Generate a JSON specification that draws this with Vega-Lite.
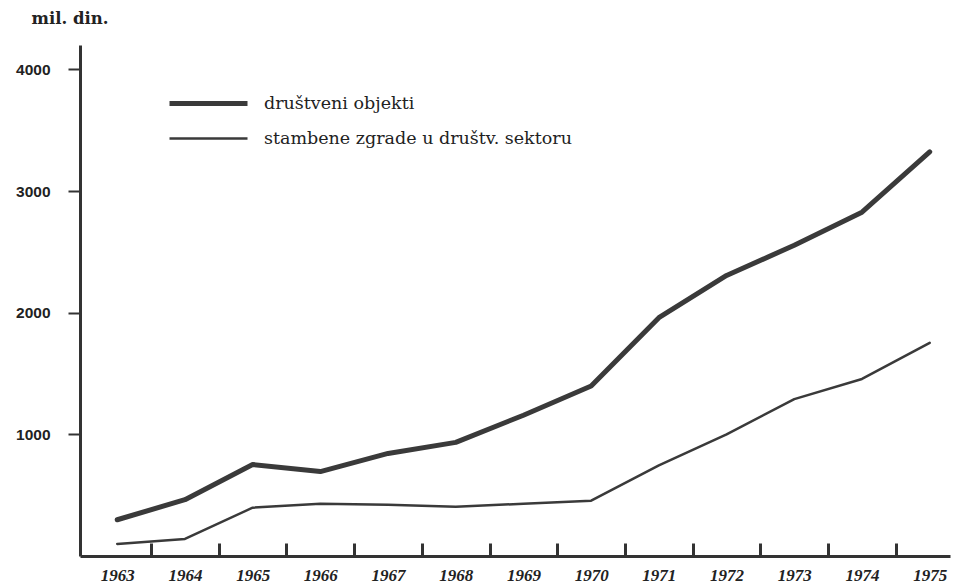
{
  "$schema": "https://vega.github.io/schema/vega-lite/v6.json",
  "autosize": "none",
  "width": 870,
  "height": 511,
  "padding": {"left": 80, "top": 45, "right": 10, "bottom": 30},
  "background": "white",
  "config": {"view": {"stroke": null}},
  "data": {"values": [
    {"year": 1963, "series": "društveni objekti", "value": 298},
    {"year": 1964, "series": "društveni objekti", "value": 463},
    {"year": 1965, "series": "društveni objekti", "value": 752},
    {"year": 1966, "series": "društveni objekti", "value": 694},
    {"year": 1967, "series": "društveni objekti", "value": 843},
    {"year": 1968, "series": "društveni objekti", "value": 934},
    {"year": 1969, "series": "društveni objekti", "value": 1157},
    {"year": 1970, "series": "društveni objekti", "value": 1397},
    {"year": 1971, "series": "društveni objekti", "value": 1959},
    {"year": 1972, "series": "društveni objekti", "value": 2306},
    {"year": 1973, "series": "društveni objekti", "value": 2554},
    {"year": 1974, "series": "društveni objekti", "value": 2826},
    {"year": 1975, "series": "društveni objekti", "value": 3322},
    {"year": 1963, "series": "stambene zgrade u društv. sektoru", "value": 99},
    {"year": 1964, "series": "stambene zgrade u društv. sektoru", "value": 140},
    {"year": 1965, "series": "stambene zgrade u društv. sektoru", "value": 397},
    {"year": 1966, "series": "stambene zgrade u društv. sektoru", "value": 430},
    {"year": 1967, "series": "stambene zgrade u društv. sektoru", "value": 421},
    {"year": 1968, "series": "stambene zgrade u društv. sektoru", "value": 405},
    {"year": 1969, "series": "stambene zgrade u društv. sektoru", "value": 430},
    {"year": 1970, "series": "stambene zgrade u društv. sektoru", "value": 455},
    {"year": 1971, "series": "stambene zgrade u društv. sektoru", "value": 744},
    {"year": 1972, "series": "stambene zgrade u društv. sektoru", "value": 1000},
    {"year": 1973, "series": "stambene zgrade u društv. sektoru", "value": 1289},
    {"year": 1974, "series": "stambene zgrade u društv. sektoru", "value": 1455},
    {"year": 1975, "series": "stambene zgrade u društv. sektoru", "value": 1752}
  ]},
  "mark": {"type": "line", "color": "#3a3a3a", "strokeCap": "round", "strokeJoin": "round"},
  "encoding": {
    "x": {
      "field": "year", "type": "quantitative",
      "scale": {"domain": [1962.45, 1975.3], "nice": false, "zero": false},
      "axis": {
        "title": null,
        "values": [1963, 1963.5, 1964, 1964.5, 1965, 1965.5, 1966, 1966.5, 1967, 1967.5, 1968, 1968.5, 1969, 1969.5, 1970, 1970.5, 1971, 1971.5, 1972, 1972.5, 1973, 1973.5, 1974, 1974.5, 1975],
        "labelExpr": "datum.value % 1 === 0 ? toString(datum.value) : ''",
        "labelOverlap": false,
        "labelFlush": false,
        "labelFont": "Liberation Serif",
        "labelFontStyle": "italic",
        "labelFontWeight": "bold",
        "labelFontSize": 17,
        "labelColor": "#222",
        "labelPadding": 24,
        "tickSize": -13,
        "tickWidth": 3,
        "tickColor": "#333",
        "tickOpacity": {"condition": {"test": "datum.value % 1 === 0", "value": 0}, "value": 1},
        "domainWidth": 3,
        "domainColor": "#333",
        "grid": false
      }
    },
    "y": {
      "field": "value", "type": "quantitative",
      "scale": {"domain": [0, 4200], "nice": false},
      "axis": {
        "title": "mil. din.",
        "titleAngle": 0,
        "titleAlign": "left",
        "titleBaseline": "alphabetic",
        "titleX": -49,
        "titleY": -22,
        "titleFont": "DejaVu Serif",
        "titleFontWeight": "bold",
        "titleFontSize": 16.5,
        "titleColor": "#222",
        "values": [1000, 2000, 3000, 4000],
        "format": "d",
        "labelFont": "Liberation Sans",
        "labelFontWeight": "bold",
        "labelFontSize": 15.5,
        "labelColor": "#222",
        "labelPadding": 18,
        "tickSize": 12,
        "tickWidth": 2,
        "tickColor": "#333",
        "domainWidth": 3,
        "domainColor": "#333",
        "grid": false
      }
    },
    "strokeWidth": {
      "field": "series", "type": "ordinal",
      "scale": {"domain": ["društveni objekti", "stambene zgrade u društv. sektoru"], "range": [5, 2.5]},
      "legend": {
        "title": null,
        "orient": "none",
        "legendX": 113,
        "legendY": 43,
        "symbolType": "M-3,0H3",
        "symbolSize": 676,
        "symbolStrokeColor": "#3a3a3a",
        "symbolOffset": 0,
        "rowPadding": 10,
        "labelLimit": 0,
        "labelFont": "DejaVu Serif",
        "labelFontSize": 17.5,
        "labelColor": "#222",
        "labelOffset": 40
      }
    }
  }
}
